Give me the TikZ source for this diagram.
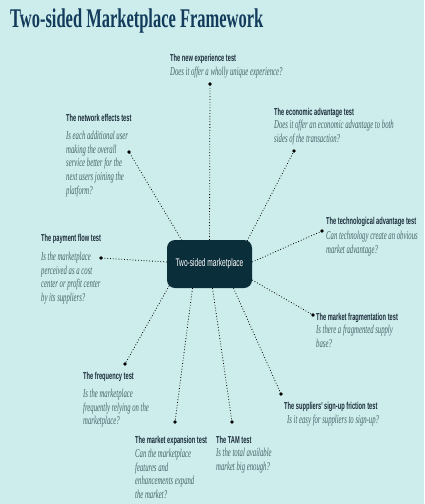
\documentclass[tikz,border=0pt]{standalone}
\usepackage{fontspec}
\newfontfamily\ttlfont[FakeStretch=0.61]{Liberation Serif}
\newfontfamily\hdfont[FakeStretch=0.57]{Liberation Sans}
\newfontfamily\dsfont[FakeStretch=0.56]{Liberation Serif}
\newfontfamily\cnfont[FakeStretch=0.6]{Liberation Sans}
\definecolor{bg}{HTML}{CCEDEB}
\definecolor{ttl}{HTML}{133B5C}
\definecolor{hd}{HTML}{1B2A3A}
\definecolor{ds}{HTML}{466269}
\definecolor{cn}{HTML}{0B2E3B}
\tikzset{
  head/.style={anchor=base west, inner sep=0pt, text=hd, font=\hdfont\bfseries\fontsize{10}{11}\selectfont},
  desc/.style={anchor=north west, inner sep=0pt, align=left, text=ds, font=\dsfont\itshape\fontsize{12}{13.6}\selectfont},
  hub/.style={fill=cn, rounded corners=8pt, minimum width=85pt, minimum height=48pt, inner sep=0pt, text=white, font=\cnfont\fontsize{11}{12}\selectfont},
  link/.style={draw=black, line width=0.8pt, dotted},
  tip/.style={fill=black}
}
\begin{document}
\begin{tikzpicture}[x=1pt,y=-1pt]
\useasboundingbox (0,0) rectangle (424,504);
\fill[bg] (0,0) rectangle (424,504);
\node[anchor=base west, inner sep=0pt, text=ttl, font=\ttlfont\bfseries\fontsize{27}{30}\selectfont] (title) at (10,27) {Two-sided Marketplace Framework};

\node[hub] (c) at (209.5,264) {Two-sided marketplace};

% heads
\node[head] (h1) at (170,61.5) {The new experience test};
\node[head] (h2) at (274,115.5) {The economic advantage test};
\node[head] (h3) at (66,121.5) {The network effects test};
\node[head] (h4) at (41,241.5) {The payment flow test};
\node[head] (h5) at (326,224.5) {The technological advantage test};
\node[head] (h6) at (316,320.5) {The market fragmentation test};
\node[head] (h7) at (83,379.5) {The frequency test};
\node[head] (h8) at (135,443.5) {The market expansion test};
\node[head] (h9) at (216,443.5) {The TAM test};
\node[head] (h10) at (284,409.5) {The suppliers' sign-up friction test};

% descriptions
\node[desc] (d1) at (170,67) {\rule{0pt}{8.5pt}Does it offer a wholly unique experience?};
\node[desc] (d2) at (274,120) {\rule{0pt}{8.5pt}Does it offer an economic advantage to both\\sides of the transaction?};
\node[desc] (d3) at (66,131) {\rule{0pt}{8.5pt}Is each additional user\\making the overall\\service better for the\\next users joining the\\platform?};
\node[desc] (d4) at (41,252) {\rule{0pt}{8.5pt}Is the marketplace\\perceived as a cost\\center or profit center\\by its suppliers?};
\node[desc] (d5) at (326,231) {\rule{0pt}{8.5pt}Can technology create an obvious\\market advantage?};
\node[desc] (d6) at (316,325) {\rule{0pt}{8.5pt}Is there a fragmented supply\\base?};
\node[desc] (d7) at (83,389) {\rule{0pt}{8.5pt}Is the marketplace\\frequently relying on the\\marketplace?};
\node[desc] (d8) at (135,449) {\rule{0pt}{8.5pt}Can the marketplace\\features and\\enhancements expand\\the market?};
\node[desc] (d9) at (216,448) {\rule{0pt}{8.5pt}Is the total available\\market big enough?};
\node[desc] (d10) at (287,415) {\rule{0pt}{8.5pt}Is it easy for suppliers to sign-up?};

% dot ends
\coordinate (p1) at (210,84);
\coordinate (p2) at (294,151);
\coordinate (p3) at (129,152);
\coordinate (p4) at (101,258);
\coordinate (p5) at (322,231);
\coordinate (p6) at (313,315);
\coordinate (p7) at (125,364);
\coordinate (p8) at (175,422);
\coordinate (p9) at (232,422);
\coordinate (p10) at (281,394);

\draw[link] (c.north) -- (p1);
\draw[link] ([xshift=-5pt,yshift=-1pt]c.north east) -- (p2);
\draw[link] ([xshift=15pt,yshift=-0.5pt]c.north west) -- (p3);
\draw[link] ([yshift=2pt]c.west) -- (p4);
\draw[link] ([yshift=2pt]c.east) -- (p5);
\draw[link] ([yshift=-16pt]c.east) -- (p6);
\draw[link] ([xshift=2.3pt,yshift=2.3pt]c.south west) -- (p7);
\draw[link] ([xshift=-17pt]c.south) -- (p8);
\draw[link] ([xshift=3pt]c.south) -- (p9);
\draw[link] ([xshift=24pt]c.south) -- (p10);

\foreach \p in {p1,p2,p3,p4,p5,p6,p7,p8,p9,p10}
  \fill[tip] (\p) circle (1.9pt);
\end{tikzpicture}
\end{document}
